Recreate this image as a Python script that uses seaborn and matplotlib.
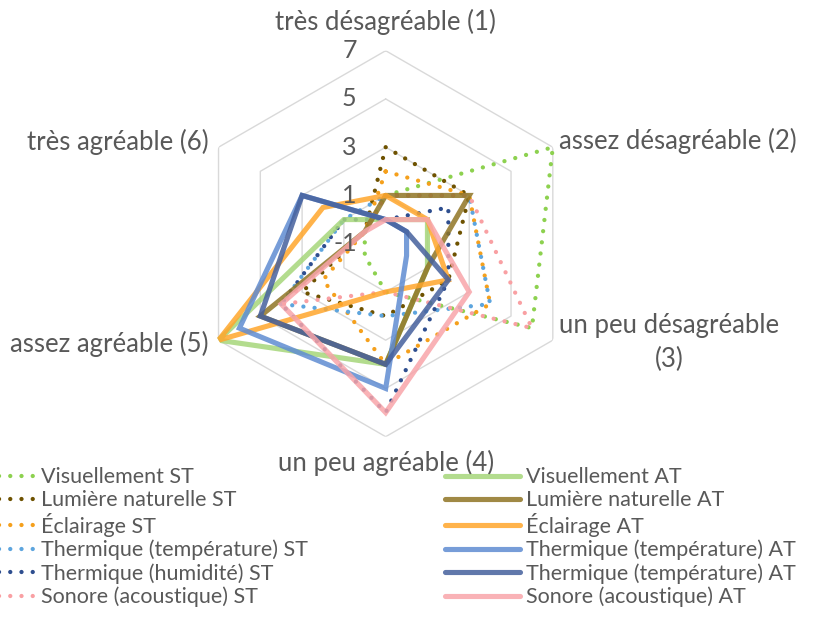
#!/usr/bin/env python3
"""Radar : ressenti des usagers par thème, ST (pointillés) vs AT (traits pleins)."""
import numpy as np
import pandas as pd
import matplotlib
matplotlib.use("Agg")
import matplotlib.pyplot as plt
from matplotlib.lines import Line2D
from matplotlib.transforms import offset_copy
import seaborn as sns

CATEGORIES = [
    "très désagréable (1)", "assez désagréable (2)", "un peu désagréable\n(3)",
    "un peu agréable (4)", "assez agréable (5)", "très agréable (6)",
]
R_TICKS = [-1, 1, 3, 5, 7]

# nombre de réponses par catégorie
visuel_st = [1, 7, 6, 1, 0, 0]
lumiere_st = [3, 3, 2, 2, 3, 0]
eclairage_st = [2, 3, 4, 4, 2, 0]
therm_temp_st = [1, 3, 4, 2, 4, 1]
therm_hum_st = [0, 2, 2, 6, 4, 1]
sonore_st = [1, 3, 6, 1, 4, 0]

visuel_at = [0, 1, 1, 4, 7, 1]
lumiere_at = [1, 3, 1, 4, 5, 0]
eclairage_at = [1, 1, 2, 1, 7, 2]
therm_temp_at = [0, 0, 0, 5, 6, 3]
therm_temp2_at = [0, 0, 2, 4, 5, 3]
sonore_at = [0, 1, 3, 6, 4, 0]

ST_NAMES = ["Visuellement ST", "Lumière naturelle ST", "Éclairage ST",
            "Thermique (température) ST", "Thermique (humidité) ST", "Sonore (acoustique) ST"]
AT_NAMES = ["Visuellement AT", "Lumière naturelle AT", "Éclairage AT",
            "Thermique (température) AT", "Thermique (température) AT", "Sonore (acoustique) AT"]
ST_VALUES = [visuel_st, lumiere_st, eclairage_st, therm_temp_st, therm_hum_st, sonore_st]
AT_VALUES = [visuel_at, lumiere_at, eclairage_at, therm_temp_at, therm_temp2_at, sonore_at]

ST_COLORS = ["#8DD14F", "#6E5200", "#F5A01C", "#5DA5DE", "#2E4E8F", "#F9A0A3"]
AT_COLORS = ["#A6D67A", "#8F7424", "#FFA62B", "#5F8CD2", "#45609D", "#F8A5AA"]

GREY = "#595959"
DOT = (0, (0.01, 2.6))
DOT_LW = 3.1
SOLID_LW = 3.7

sns.set_style("white")
plt.rcParams["font.family"] = ["Lato", "DejaVu Sans"]

fig = plt.figure(figsize=(8.14, 6.19), dpi=100)
ax = fig.add_axes([0.2367, 0.2945, 0.4742, 0.6236], projection="polar")
ax.set_theta_zero_location("N")
ax.set_theta_direction(-1)
ax.grid(False)
ax.spines["polar"].set_visible(False)

n = len(CATEGORIES)
theta = np.linspace(0, 2 * np.pi, n + 1)

# grille hexagonale
for r in R_TICKS[1:]:
    ax.plot(theta, [r] * (n + 1), color="#D9D9D9", lw=1.0, zorder=1)


def draw(vals, color, ls, lw, alpha):
    df = pd.DataFrame({"theta": theta, "r": list(vals) + [vals[0]]})
    sns.lineplot(data=df, x="theta", y="r", ax=ax, sort=False, estimator=None,
                 color=color, linestyle=ls, lw=lw, alpha=alpha,
                 dash_capstyle="round", solid_joinstyle="miter", zorder=3)


for vals, col in zip(ST_VALUES, ST_COLORS):
    draw(vals, col, DOT, DOT_LW, 1.0)
for vals, col in zip(AT_VALUES, AT_COLORS):
    draw(vals, col, "-", SOLID_LW, 0.85)

ax.set_xlabel("")
ax.set_ylabel("")
ax.set_xticks([])
ax.set_yticks([])
ax.set_ylim(-1, 7)

# étiquettes radiales
lab_tr = offset_copy(ax.transData, fig=fig, x=-29, y=0, units="dots")
for v in R_TICKS:
    ax.text(0, v, str(v), transform=lab_tr, ha="right", va="center",
            fontsize=18, color=GREY)

# étiquettes des catégories
ang = theta[:-1]
specs = [
    (8.2, 0, 0, "center", "center"),
    (7, 6, 6, "left", "center"),
    (7, 6, -2, "left", "center"),
    (8.1, 0, 0, "center", "center"),
    (7, -10, -4, "right", "center"),
    (7, -10, 5, "right", "center"),
]
for a, cat, (r, dx, dy, ha, va) in zip(ang, CATEGORIES, specs):
    tr = offset_copy(ax.transData, fig=fig, x=dx, y=dy, units="dots")
    ax.text(a, r, cat, transform=tr, ha=ha, va=va, fontsize=18.5, color=GREY,
            multialignment="center", linespacing=1.45)

# légendes
st_handles = [Line2D([0], [0], color=c, lw=DOT_LW, linestyle=DOT, dash_capstyle="round")
              for c in ST_COLORS]
at_handles = [Line2D([0], [0], color=c, lw=SOLID_LW, alpha=0.85) for c in AT_COLORS]
common = dict(frameon=False, fontsize=15.5, labelcolor=GREY, handlelength=3.45,
              handletextpad=0.3, labelspacing=0.13, borderpad=0, borderaxespad=0,
              loc="upper left")
fig.legend(st_handles, ST_NAMES, bbox_to_anchor=(-0.049, 0.245), **common)
fig.legend(at_handles, AT_NAMES, bbox_to_anchor=(0.547, 0.245), **common)

fig.savefig("out.png", dpi=100)
